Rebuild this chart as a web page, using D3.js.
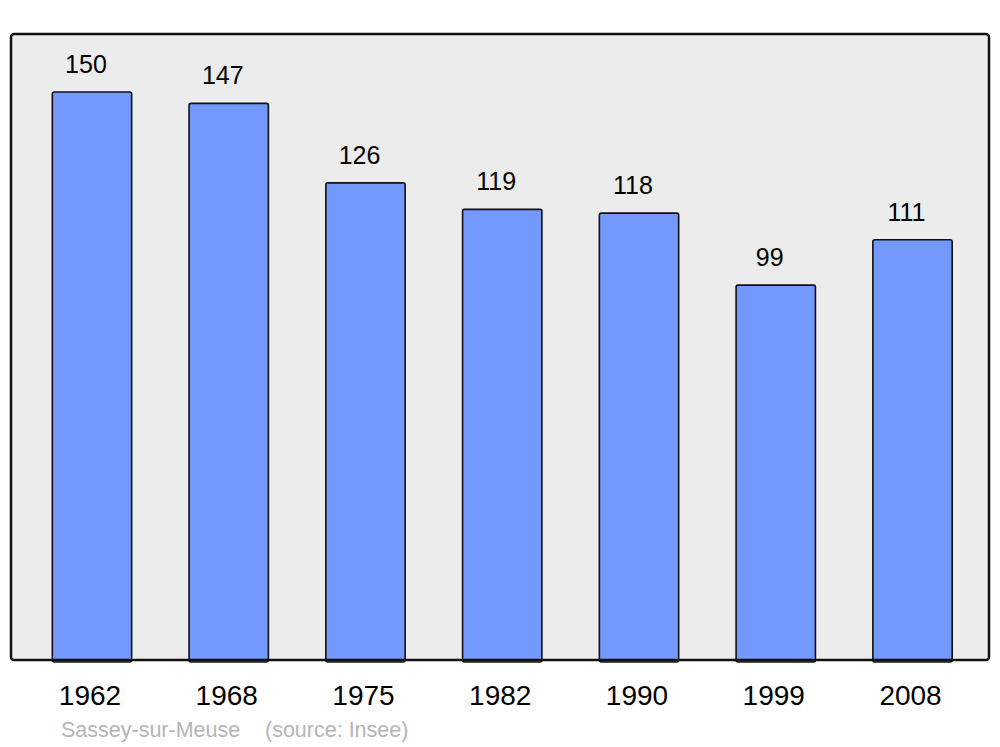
<!DOCTYPE html>
<html>
<head>
<meta charset="utf-8">
<script src="https://cdn.jsdelivr.net/npm/d3@7"></script>
<style>
  body { margin: 0; background: #fff; }
  svg { display: block; font-family: "Liberation Sans", Arial, sans-serif; }
</style>
</head>
<body>
<div id="chart"></div>
<script>
// données
var years = ["1962", "1968", "1975", "1982", "1990", "1999", "2008"];
var population = [150, 147, 126, 119, 118, 99, 111];
var commune = "Sassey-sur-Meuse";
var source = "(source: Insee)";

var W = 1000, H = 747;
var frame = { x0: 11, y0: 34, x1: 989, y1: 660 };

var svg = d3.select("#chart").append("svg")
    .attr("width", W)
    .attr("height", H);

// échelles
var xScale = d3.scaleBand()
    .domain(years)
    .range([23.6, 980.9])
    .paddingInner(0.42)
    .paddingOuter(0.21);

var yScale = d3.scaleLinear()
    .domain([0, 150])
    .range([frame.y1, 92]);

// fond
svg.append("rect")
    .attr("x", frame.x0)
    .attr("y", frame.y0)
    .attr("width", frame.x1 - frame.x0)
    .attr("height", frame.y1 - frame.y0)
    .attr("rx", 3)
    .attr("fill", "#ececec");

// barres
var bars = svg.append("g").attr("class", "bars");
bars.selectAll("rect")
    .data(population)
    .enter()
    .append("rect")
    .attr("x", function(d, i) { return xScale(years[i]); })
    .attr("y", function(d) { return yScale(d); })
    .attr("width", xScale.bandwidth())
    .attr("height", function(d) { return frame.y1 - yScale(d) + 2; })
    .attr("rx", 2)
    .attr("fill", "#7399ff")
    .attr("stroke", "#111")
    .attr("stroke-width", 1.6);

// valeurs
svg.append("g").selectAll("text")
    .data(population)
    .enter()
    .append("text")
    .attr("x", function(d, i) { return xScale(years[i]) + xScale.bandwidth() / 2 - 6; })
    .attr("y", function(d) { return yScale(d) - 19; })
    .attr("text-anchor", "middle")
    .style("font-size", "25px")
    .attr("fill", "#000")
    .text(function(d) { return d; });

// cadre
svg.append("rect")
    .attr("x", frame.x0)
    .attr("y", frame.y0)
    .attr("width", frame.x1 - frame.x0)
    .attr("height", frame.y1 - frame.y0)
    .attr("rx", 3)
    .attr("fill", "none")
    .attr("stroke", "#111")
    .attr("stroke-width", 2.5);

// axe x
var xAxis = svg.append("g")
    .attr("transform", "translate(0," + frame.y1 + ")")
    .call(d3.axisBottom(xScale).tickSize(0).tickPadding(0));
xAxis.select(".domain").remove();
xAxis.selectAll("text")
    .attr("dx", -2)
    .attr("y", 45)
    .attr("dy", 0)
    .style("font-size", "28px")
    .style("font-family", "Liberation Sans, Arial, sans-serif")
    .attr("fill", "#000");

// pied
svg.append("text")
    .attr("x", 61)
    .attr("y", 737)
    .style("font-size", "21.5px")
    .attr("fill", "#b5b5b5")
    .text(commune);
svg.append("text")
    .attr("x", 265)
    .attr("y", 737)
    .style("font-size", "21.5px")
    .attr("fill", "#b5b5b5")
    .text(source);
</script>
</body>
</html>
